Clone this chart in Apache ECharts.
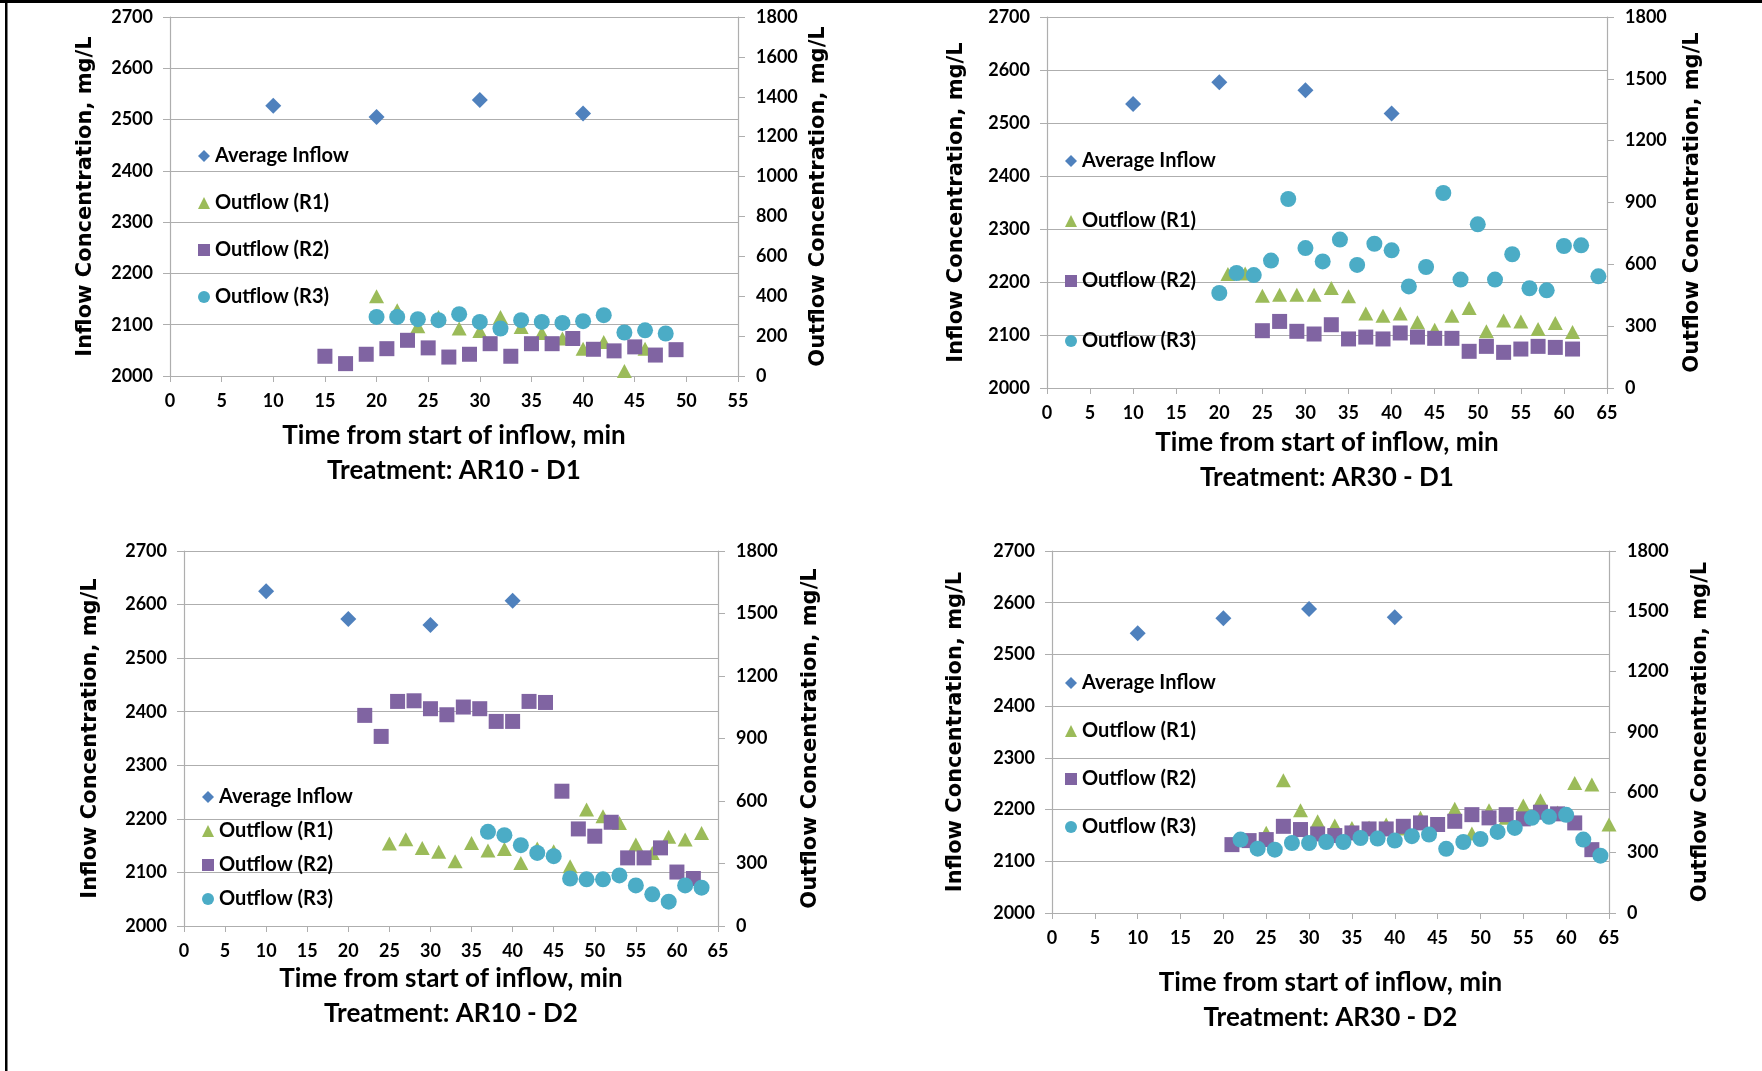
<!DOCTYPE html>
<html><head><meta charset="utf-8">
<script src="https://cdn.jsdelivr.net/npm/echarts@6/dist/echarts.min.js"></script>
<style>html,body{margin:0;padding:0;background:#fff}#c{width:1762px;height:1071px}</style>
</head><body><div id="c"></div><script>
// ---------- DATA ----------
const panelTitles = ['Treatment: AR10 - D1', 'Treatment: AR30 - D1', 'Treatment: AR10 - D2', 'Treatment: AR30 - D2'];
const xMaxes = [55, 65, 65, 65];
const rightIntervals = [200, 300, 300, 300];
const seriesNames = ['Average Inflow', 'Outflow (R1)', 'Outflow (R2)', 'Outflow (R3)'];

// Panel 1: AR10 - D1
const p1InflowX = [10, 20, 30, 40];
const p1InflowY = [2527, 2505, 2538, 2512];
const p1R1X = [20, 22, 24, 26, 28, 30, 32, 34, 36, 38, 40, 42, 44, 46];
const p1R1Y = [400, 330, 250, 296, 238, 226, 296, 246, 216, 188, 137, 171, 25, 137];
const p1R2X = [15, 17, 19, 21, 23, 25, 27, 29, 31, 33, 35, 37, 39, 41, 43, 45, 47, 49];
const p1R2Y = [99, 62, 109, 137, 179, 141, 95, 109, 162, 99, 162, 162, 188, 134, 126, 146, 105, 132];
const p1R3X = [20, 22, 24, 26, 28, 30, 32, 34, 36, 38, 40, 42, 44, 46, 48];
const p1R3Y = [296, 296, 285, 280, 310, 271, 238, 280, 271, 266, 275, 305, 218, 229, 213];

// Panel 2: AR30 - D1
const p2InflowX = [10, 20, 30, 40];
const p2InflowY = [2536, 2577, 2562, 2518];
const p2R1X = [21, 23, 25, 27, 29, 31, 33, 35, 37, 39, 41, 43, 45, 47, 49, 51, 53, 55, 57, 59, 61];
const p2R1Y = [553, 556, 448, 453, 453, 453, 485, 445, 361, 351, 361, 319, 283, 351, 388, 275, 328, 323, 286, 315, 272];
const p2R2X = [25, 27, 29, 31, 33, 35, 37, 39, 41, 43, 45, 47, 49, 51, 53, 55, 57, 59, 61];
const p2R2Y = [278, 323, 275, 262, 307, 238, 247, 238, 267, 247, 241, 241, 178, 202, 173, 189, 202, 197, 189];
const p2R3X = [20, 22, 24, 26, 28, 30, 32, 34, 36, 38, 40, 42, 44, 46, 48, 50, 52, 54, 56, 58, 60, 62, 64];
const p2R3Y = [461, 558, 548, 618, 917, 679, 614, 720, 597, 700, 668, 493, 587, 946, 526, 794, 526, 649, 484, 474, 689, 692, 542];

// Panel 3: AR10 - D2
const p3InflowX = [10, 20, 30, 40];
const p3InflowY = [2625, 2573, 2562, 2607];
const p3R1X = [25, 27, 29, 31, 33, 35, 37, 39, 41, 43, 45, 47, 49, 51, 53, 55, 57, 59, 61, 63];
const p3R1Y = [396, 416, 375, 356, 311, 399, 362, 370, 303, 372, 359, 287, 559, 527, 495, 391, 351, 428, 415, 447];
const p3R2X = [22, 24, 26, 28, 30, 32, 34, 36, 38, 40, 42, 44, 46, 48, 50, 52, 54, 56, 58, 60, 62];
const p3R2Y = [1011, 910, 1078, 1081, 1043, 1014, 1051, 1043, 982, 982, 1078, 1073, 647, 466, 431, 498, 327, 327, 375, 259, 228];
const p3R3X = [37, 39, 41, 43, 45, 47, 49, 51, 53, 55, 57, 59, 61, 63];
const p3R3Y = [452, 436, 388, 351, 335, 228, 224, 224, 243, 195, 152, 117, 195, 184];

// Panel 4: AR30 - D2
const p4InflowX = [10, 20, 30, 40];
const p4InflowY = [2541, 2570, 2588, 2572];
const p4R1X = [25, 27, 29, 31, 33, 35, 37, 39, 41, 43, 45, 47, 49, 51, 53, 55, 57, 59, 61, 63, 65];
const p4R1Y = [399, 660, 511, 456, 435, 423, 425, 440, 420, 473, 440, 518, 395, 511, 473, 534, 561, 500, 647, 639, 440];
const p4R2X = [21, 23, 25, 27, 29, 31, 33, 35, 37, 39, 41, 43, 45, 47, 49, 51, 53, 55, 57, 59, 61, 63];
const p4R2Y = [340, 360, 365, 431, 415, 393, 385, 398, 418, 418, 431, 448, 440, 456, 489, 473, 489, 468, 501, 493, 448, 315];
const p4R3X = [22, 24, 26, 28, 30, 32, 34, 36, 38, 40, 42, 44, 46, 48, 50, 52, 54, 56, 58, 60, 62, 64];
const p4R3Y = [365, 320, 315, 348, 348, 353, 353, 373, 370, 360, 382, 390, 319, 353, 368, 403, 423, 473, 478, 488, 365, 285];

// ---------- LAYOUT / STYLE ----------
const panels = [
  [[p1InflowX, p1InflowY], [p1R1X, p1R1Y], [p1R2X, p1R2Y], [p1R3X, p1R3Y]],
  [[p2InflowX, p2InflowY], [p2R1X, p2R1Y], [p2R2X, p2R2Y], [p2R3X, p2R3Y]],
  [[p3InflowX, p3InflowY], [p3R1X, p3R1Y], [p3R2X, p3R2Y], [p3R3X, p3R3Y]],
  [[p4InflowX, p4InflowY], [p4R1X, p4R1Y], [p4R2X, p4R2Y], [p4R3X, p4R3Y]]
];
const grids = [
  {left: 170, top: 17, width: 568, height: 359},
  {left: 1047, top: 17, width: 560, height: 371},
  {left: 184, top: 551, width: 534, height: 375},
  {left: 1052, top: 551, width: 557, height: 362}
];
const leftNameGap = [74, 80, 83, 86];
const rightNameGap = [70, 75, 82, 81];
const xNameGap = [42, 37, 34, 52];
const legendPos = [
  {left: 198, top: 146, gap: 27},
  {left: 1065, top: 151, gap: 40},
  {left: 202, top: 787, gap: 14},
  {left: 1065, top: 673, gap: 28}
];
const colors = ['#4F81BD', '#9BBB59', '#8064A2', '#4BACC6'];
const symbols = ['diamond', 'triangle', 'rect', 'circle'];
const sizes = [[16, 16], [15, 14], [15, 15], [16, 16]];
const gridColor = '#AEAEAE';
const tickFont = {fontFamily: 'Lato', fontWeight: 'bold', fontSize: 18, color: '#000'};
const plain = v => String(v);

const option = {
  animation: false,
  backgroundColor: '#fff',
  grid: grids.map(g => Object.assign({containLabel: false}, g)),
  xAxis: [], yAxis: [], series: [], legend: [],
  graphic: [
    {type: 'rect', shape: {x: 0, y: 0, width: 1762, height: 3}, style: {fill: '#000'}},
    {type: 'rect', shape: {x: 5, y: 0, width: 2.5, height: 1071}, style: {fill: '#000'}}
  ]
};

panels.forEach((panel, i) => {
  option.xAxis.push({
    type: 'value', gridIndex: i, min: 0, max: xMaxes[i], interval: 5,
    axisLine: {show: true, lineStyle: {color: gridColor, width: 1.2}},
    axisTick: {show: true, length: 6, lineStyle: {color: gridColor}},
    splitLine: {show: false},
    axisLabel: Object.assign({margin: 16, formatter: plain}, tickFont),
    name: 'Time from start of inflow, min\n' + panelTitles[i],
    nameLocation: 'middle', nameGap: xNameGap[i],
    nameTextStyle: {fontFamily: 'Lato', fontWeight: 'bold', fontSize: 26, lineHeight: 35, color: '#000'}
  });
  option.yAxis.push({
    type: 'value', gridIndex: i, position: 'left', min: 2000, max: 2700, interval: 100,
    axisLine: {show: true, lineStyle: {color: gridColor, width: 1.2}},
    axisTick: {show: true, length: 7, lineStyle: {color: gridColor}},
    splitLine: {show: true, lineStyle: {color: gridColor, width: 1.2}},
    axisLabel: Object.assign({margin: 17, formatter: plain}, tickFont),
    name: 'Inflow Concentration, mg/L', nameLocation: 'middle', nameGap: leftNameGap[i], nameRotate: 90,
    nameTextStyle: {fontFamily: 'DejaVu Sans', fontWeight: 'bold', fontSize: 21, color: '#000'}
  });
  option.yAxis.push({
    type: 'value', gridIndex: i, position: 'right', min: 0, max: 1800, interval: rightIntervals[i],
    axisLine: {show: true, lineStyle: {color: gridColor, width: 1.2}},
    axisTick: {show: true, length: 7, lineStyle: {color: gridColor}},
    splitLine: {show: false},
    axisLabel: Object.assign({margin: 18, formatter: plain}, tickFont),
    name: 'Outflow Concentration, mg/L', nameLocation: 'middle', nameGap: rightNameGap[i], nameRotate: 90,
    nameTextStyle: {fontFamily: 'DejaVu Sans', fontWeight: 'bold', fontSize: 21, color: '#000'}
  });
  panel.forEach((s, k) => {
    const [xs, ys] = s;
    option.series.push({
      type: 'scatter', name: seriesNames[k],
      xAxisIndex: i, yAxisIndex: k === 0 ? i * 2 : i * 2 + 1,
      symbol: symbols[k], symbolSize: sizes[k],
      itemStyle: {color: colors[k], opacity: 1},
      z: 2 + k,
      data: xs.map((x, j) => [x, ys[j]])
    });
  });
  const lp = legendPos[i];
  option.legend.push({
    orient: 'vertical', left: lp.left, top: lp.top, itemGap: lp.gap,
    itemWidth: 12, itemHeight: 12, selectedMode: false, padding: 0,
    textStyle: {fontFamily: 'Lato', fontWeight: 'bold', fontSize: 20, lineHeight: 20, color: '#000'},
    data: seriesNames.map((n, k) => ({name: n, icon: symbols[k], itemStyle: {color: colors[k]}}))
  });
});

const chart = echarts.init(document.getElementById('c'), null, {renderer: 'canvas'});
chart.setOption(option);
</script></body></html>
